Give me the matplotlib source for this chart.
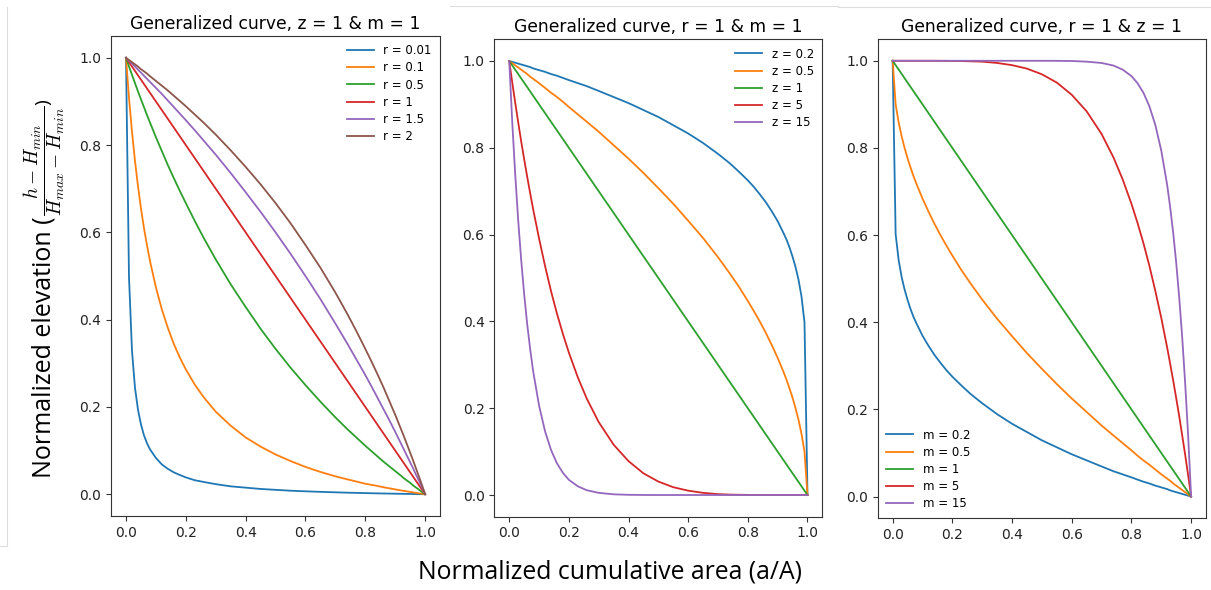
import matplotlib
matplotlib.use("Agg")
import matplotlib.pyplot as plt
from matplotlib.lines import Line2D

# normalized cumulative area (a/A), shared by all curves
area = [0.0, 0.01, 0.02, 0.03, 0.04, 0.05, 0.06, 0.07, 0.08, 0.10, 0.12, 0.14,
        0.16, 0.18, 0.20, 0.23, 0.26, 0.30, 0.35, 0.40, 0.45, 0.50, 0.55, 0.60,
        0.65, 0.70, 0.74, 0.77, 0.80, 0.82, 0.84, 0.86, 0.88, 0.90, 0.92, 0.93,
        0.94, 0.95, 0.96, 0.97, 0.98, 0.99, 1.0]

# panel 1: z = 1 & m = 1, varying r
r_labels = ["r = 0.01", "r = 0.1", "r = 0.5", "r = 1", "r = 1.5", "r = 2"]
elev_r001 = [1.0, 0.497, 0.329, 0.244, 0.194, 0.160, 0.135, 0.117, 0.103, 0.083,
             0.068, 0.058, 0.050, 0.044, 0.0385, 0.032, 0.028, 0.023, 0.018,
             0.015, 0.012, 0.010, 0.008, 0.0066, 0.0054, 0.0043, 0.0035, 0.003,
             0.0025, 0.0022, 0.0019, 0.0016, 0.0014, 0.0011, 0.0009, 0.0008,
             0.0006, 0.0005, 0.0004, 0.0003, 0.0002, 0.0001, 0.0]
elev_r01 = [1.0, 0.908, 0.831, 0.764, 0.706, 0.655, 0.610, 0.571, 0.535, 0.474,
            0.423, 0.381, 0.344, 0.313, 0.286, 0.251, 0.222, 0.189, 0.157, 0.130,
            0.109, 0.091, 0.076, 0.0625, 0.051, 0.041, 0.034, 0.029, 0.024,
            0.0215, 0.019, 0.016, 0.0135, 0.011, 0.0086, 0.0075, 0.0063, 0.0052,
            0.0041, 0.0031, 0.002, 0.001, 0.0]
elev_r05 = [1.0, 0.980, 0.961, 0.942, 0.923, 0.905, 0.887, 0.869, 0.852, 0.818,
            0.786, 0.754, 0.724, 0.695, 0.667, 0.626, 0.587, 0.538, 0.481, 0.429,
            0.379, 0.333, 0.290, 0.250, 0.212, 0.176, 0.149, 0.130, 0.111, 0.099,
            0.087, 0.075, 0.064, 0.053, 0.042, 0.036, 0.031, 0.026, 0.020,
            0.015, 0.010, 0.005, 0.0]
elev_r1 = [1.0, 0.99, 0.98, 0.97, 0.96, 0.95, 0.94, 0.93, 0.92, 0.90, 0.88, 0.86,
           0.84, 0.82, 0.80, 0.77, 0.74, 0.70, 0.65, 0.60, 0.55, 0.50, 0.45,
           0.40, 0.35, 0.30, 0.26, 0.23, 0.20, 0.18, 0.16, 0.14, 0.12, 0.10,
           0.08, 0.07, 0.06, 0.05, 0.04, 0.03, 0.02, 0.01, 0.0]
elev_r15 = [1.0, 0.993, 0.987, 0.980, 0.973, 0.966, 0.959, 0.952, 0.945, 0.931,
            0.917, 0.902, 0.887, 0.872, 0.857, 0.834, 0.810, 0.778, 0.736, 0.692,
            0.647, 0.600, 0.551, 0.500, 0.447, 0.391, 0.345, 0.309, 0.273, 0.248,
            0.222, 0.196, 0.170, 0.143, 0.115, 0.101, 0.087, 0.073, 0.059,
            0.044, 0.030, 0.015, 0.0]
elev_r2 = [1.0, 0.995, 0.990, 0.985, 0.980, 0.974, 0.969, 0.964, 0.958, 0.947,
           0.936, 0.925, 0.913, 0.901, 0.889, 0.870, 0.851, 0.824, 0.788, 0.750,
           0.710, 0.667, 0.621, 0.571, 0.519, 0.462, 0.413, 0.374, 0.333, 0.305,
           0.276, 0.246, 0.214, 0.182, 0.148, 0.131, 0.113, 0.095, 0.077, 0.058,
           0.039, 0.020, 0.0]

# panel 2: r = 1 & m = 1, varying z
z_labels = ["z = 0.2", "z = 0.5", "z = 1", "z = 5", "z = 15"]
elev_z02 = [1.0, 0.998, 0.996, 0.994, 0.992, 0.990, 0.988, 0.986, 0.983, 0.979,
            0.975, 0.970, 0.966, 0.961, 0.956, 0.949, 0.942, 0.931, 0.917, 0.903,
            0.887, 0.871, 0.852, 0.833, 0.811, 0.786, 0.764, 0.745, 0.725, 0.710,
            0.693, 0.675, 0.654, 0.631, 0.603, 0.588, 0.570, 0.549, 0.525, 0.496,
            0.457, 0.398, 0.0]
elev_z05 = [1.0, 0.995, 0.990, 0.985, 0.980, 0.975, 0.970, 0.964, 0.959, 0.949,
            0.938, 0.927, 0.917, 0.906, 0.894, 0.877, 0.860, 0.837, 0.806, 0.775,
            0.742, 0.707, 0.671, 0.632, 0.592, 0.548, 0.510, 0.480, 0.447, 0.424,
            0.400, 0.374, 0.346, 0.316, 0.283, 0.265, 0.245, 0.224, 0.200, 0.173,
            0.141, 0.100, 0.0]
elev_z1 = [1.0, 0.99, 0.98, 0.97, 0.96, 0.95, 0.94, 0.93, 0.92, 0.90, 0.88, 0.86,
           0.84, 0.82, 0.80, 0.77, 0.74, 0.70, 0.65, 0.60, 0.55, 0.50, 0.45,
           0.40, 0.35, 0.30, 0.26, 0.23, 0.20, 0.18, 0.16, 0.14, 0.12, 0.10,
           0.08, 0.07, 0.06, 0.05, 0.04, 0.03, 0.02, 0.01, 0.0]
elev_z5 = [1.0, 0.951, 0.904, 0.859, 0.815, 0.774, 0.734, 0.696, 0.659, 0.591,
           0.528, 0.470, 0.418, 0.371, 0.328, 0.271, 0.222, 0.168, 0.116, 0.078,
           0.050, 0.031, 0.018, 0.010, 0.005, 0.002, 0.001, 0.0006, 0.0003,
           0.0002, 0.0001, 0.0001, 0.0, 0.0, 0.0, 0.0, 0.0, 0.0, 0.0, 0.0, 0.0,
           0.0, 0.0]
elev_z15 = [1.0, 0.860, 0.739, 0.633, 0.542, 0.463, 0.395, 0.337, 0.286, 0.206,
            0.147, 0.104, 0.073, 0.051, 0.035, 0.020, 0.011, 0.005, 0.0016,
            0.0005, 0.0001, 0.0, 0.0, 0.0, 0.0, 0.0, 0.0, 0.0, 0.0, 0.0, 0.0,
            0.0, 0.0, 0.0, 0.0, 0.0, 0.0, 0.0, 0.0, 0.0, 0.0, 0.0, 0.0]

# panel 3: r = 1 & z = 1, varying m
m_labels = ["m = 0.2", "m = 0.5", "m = 1", "m = 5", "m = 15"]
elev_m02 = [1.0, 0.602, 0.543, 0.504, 0.475, 0.451, 0.430, 0.412, 0.397, 0.369,
            0.346, 0.325, 0.307, 0.290, 0.275, 0.255, 0.236, 0.214, 0.189, 0.167,
            0.148, 0.129, 0.113, 0.097, 0.083, 0.069, 0.058, 0.051, 0.044, 0.039,
            0.034, 0.030, 0.025, 0.021, 0.017, 0.014, 0.012, 0.010, 0.008, 0.006,
            0.004, 0.002, 0.0]
elev_m05 = [1.0, 0.900, 0.859, 0.827, 0.800, 0.776, 0.755, 0.735, 0.717, 0.684,
            0.654, 0.626, 0.600, 0.576, 0.553, 0.520, 0.490, 0.452, 0.408, 0.368,
            0.329, 0.293, 0.258, 0.225, 0.194, 0.163, 0.140, 0.123, 0.106, 0.094,
            0.083, 0.073, 0.062, 0.051, 0.041, 0.036, 0.030, 0.025, 0.020, 0.015,
            0.010, 0.005, 0.0]
elev_m1 = [1.0, 0.99, 0.98, 0.97, 0.96, 0.95, 0.94, 0.93, 0.92, 0.90, 0.88, 0.86,
           0.84, 0.82, 0.80, 0.77, 0.74, 0.70, 0.65, 0.60, 0.55, 0.50, 0.45,
           0.40, 0.35, 0.30, 0.26, 0.23, 0.20, 0.18, 0.16, 0.14, 0.12, 0.10,
           0.08, 0.07, 0.06, 0.05, 0.04, 0.03, 0.02, 0.01, 0.0]
elev_m5 = [1.0, 1.0, 1.0, 1.0, 1.0, 1.0, 1.0, 1.0, 1.0, 1.0, 1.0, 1.0, 0.9999,
           0.9998, 0.9997, 0.9994, 0.9988, 0.998, 0.995, 0.990, 0.982, 0.969,
           0.950, 0.922, 0.884, 0.832, 0.778, 0.729, 0.672, 0.629, 0.582, 0.530,
           0.472, 0.410, 0.341, 0.304, 0.266, 0.226, 0.185, 0.141, 0.096, 0.049,
           0.0]
elev_m15 = [1.0, 1.0, 1.0, 1.0, 1.0, 1.0, 1.0, 1.0, 1.0, 1.0, 1.0, 1.0, 1.0,
            1.0, 1.0, 1.0, 1.0, 1.0, 1.0, 1.0, 1.0, 1.0, 0.9999, 0.9995, 0.998,
            0.995, 0.989, 0.980, 0.965, 0.949, 0.927, 0.896, 0.853, 0.794, 0.714,
            0.663, 0.605, 0.537, 0.458, 0.367, 0.261, 0.140, 0.0]

plt.rcParams["mathtext.fontset"] = "cm"
plt.rcParams["xtick.labelsize"] = 10
plt.rcParams["ytick.labelsize"] = 10


def plot_panel(ax, curves, labels, title, loc):
    for elev, lab in zip(curves, labels):
        ax.plot(area, elev, lw=1.3, label=lab)
    ax.set_title(title, fontsize=12.3, pad=5)
    ax.legend(loc=loc, frameon=False, fontsize=8.5, handlelength=2.3,
              labelspacing=0.35, borderaxespad=0.3)
    for sp in ax.spines.values():
        sp.set_color("#333333")
    ax.tick_params(colors="#333333", labelcolor="#222222")


W, H = 1211.0, 590.0
fig = plt.figure(figsize=(W / 100, H / 100), dpi=100)
ax1 = fig.add_axes([0.0917, 0.1254, 0.2717, 0.8136])
ax2 = fig.add_axes([0.4082, 0.1242, 0.2709, 0.8092])
ax3 = fig.add_axes([0.7248, 0.1215, 0.2711, 0.8124])

plot_panel(ax1, [elev_r001, elev_r01, elev_r05, elev_r1, elev_r15, elev_r2],
           r_labels, "Generalized curve, z = 1 & m = 1", "upper right")
plot_panel(ax2, [elev_z02, elev_z05, elev_z1, elev_z5, elev_z15],
           z_labels, "Generalized curve, r = 1 & m = 1", "upper right")
plot_panel(ax3, [elev_m02, elev_m05, elev_m1, elev_m5, elev_m15],
           m_labels, "Generalized curve, r = 1 & z = 1", "lower left")

fig.text(0.504, 1 - 572 / H, "Normalized cumulative area (a/A)",
         ha="center", va="center", fontsize=17.8, family="Open Sans")

# y label: plain words, then the fraction written right after them
ylab = fig.text(50 / W, 1 - 478 / H, "Normalized elevation (", rotation=90,
                rotation_mode="anchor", ha="left", va="baseline",
                fontsize=18, family="Open Sans")
bb = ylab.get_window_extent(fig.canvas.get_renderer())
fig.text(44 / W, bb.y1 / H, "$\\dfrac{h-H_{min}}{H_{max}-H_{min}}$)",
         rotation=90, rotation_mode="anchor", ha="left", va="center",
         fontsize=14, family="Open Sans")

# faint borders left over from the pasted panels
for xs, ys in [([6.5, 6.5], [7, 546]), ([0, 6.5], [546, 546]),
               ([450, 838], [6, 6]), ([838, 1211], [6.5, 6.5])]:
    fig.add_artist(Line2D([x / W for x in xs], [1 - y / H for y in ys],
                          color="#dddddd", lw=0.8))

fig.savefig("out.png", dpi=100)
